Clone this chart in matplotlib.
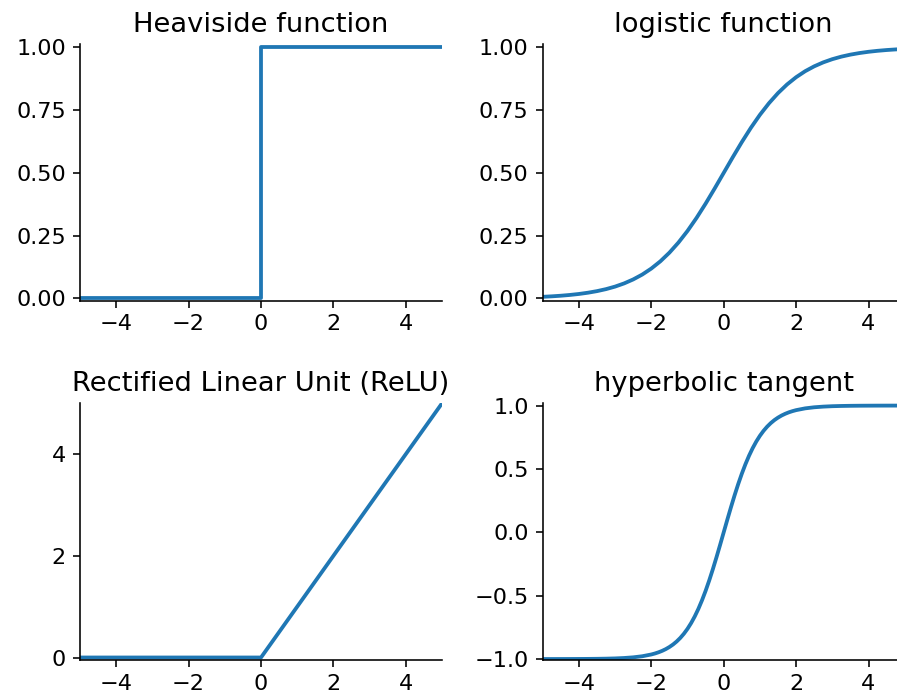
import matplotlib
matplotlib.use("Agg")
import matplotlib.pyplot as plt

# sample points
x_step = [-5, 0, 0, 5]
y_step = [0, 0, 1, 1]

x_relu = [-5, 0, 5]
y_relu = [0, 0, 5]

x_logistic = [-5 + 0.25 * i for i in range(41)]
y_logistic = [0.0067, 0.0086, 0.0110, 0.0141, 0.0180, 0.0230, 0.0293, 0.0373,
              0.0474, 0.0601, 0.0759, 0.0953, 0.1192, 0.1480, 0.1824, 0.2227,
              0.2689, 0.3208, 0.3775, 0.4378, 0.5000, 0.5622, 0.6225, 0.6792,
              0.7311, 0.7773, 0.8176, 0.8520, 0.8808, 0.9047, 0.9241, 0.9399,
              0.9526, 0.9627, 0.9707, 0.9770, 0.9820, 0.9859, 0.9890, 0.9914,
              0.9933]

# coarse in the flat tails, finer through the steep middle
x_tanh = ([-5 + 0.25 * i for i in range(12)]
          + [round(-2 + 0.1 * i, 1) for i in range(41)]
          + [2.25 + 0.25 * i for i in range(12)])
y_tanh = [-0.9999, -0.9999, -0.9998, -0.9996, -0.9993, -0.9989, -0.9982, -0.9970,
          -0.9951, -0.9918, -0.9866, -0.9780,
          -0.9640, -0.9562, -0.9468, -0.9354, -0.9217, -0.9051, -0.8854, -0.8617,
          -0.8337, -0.8005, -0.7616, -0.7163, -0.6640, -0.6044, -0.5370, -0.4621,
          -0.3799, -0.2913, -0.1974, -0.0997, 0.0000, 0.0997, 0.1974, 0.2913,
          0.3799, 0.4621, 0.5370, 0.6044, 0.6640, 0.7163, 0.7616, 0.8005,
          0.8337, 0.8617, 0.8854, 0.9051, 0.9217, 0.9354, 0.9468, 0.9562,
          0.9640,
          0.9780, 0.9866, 0.9918, 0.9951, 0.9970, 0.9982, 0.9989, 0.9993,
          0.9996, 0.9998, 0.9999, 0.9999]

plt.rcParams['font.size'] = 11.2

W, H = 897, 698
fig = plt.figure(figsize=(W / 144, H / 144), dpi=144)


def box(left, top, right, bottom):
    return [left / W, 1 - bottom / H, (right - left) / W, (bottom - top) / H]


panels = [
    (box(80, 44, 442, 300.5), x_step, y_step, 'Heaviside function', (-0.008, 1.013), [0, 0.25, 0.5, 0.75, 1.0], '{:.2f}'),
    (box(542.7, 44, 904.7, 300.5), x_logistic, y_logistic, 'logistic function', (-0.008, 1.013), [0, 0.25, 0.5, 0.75, 1.0], '{:.2f}'),
    (box(80, 403.3, 442, 660.3), x_relu, y_relu, 'Rectified Linear Unit (ReLU)', (-0.055, 5.0), [0, 2, 4], '{:.0f}'),
    (box(542.7, 403.3, 904.7, 660.3), x_tanh, y_tanh, 'hyperbolic tangent', (-1.01, 1.018), [-1.0, -0.5, 0.0, 0.5, 1.0], '{:.1f}'),
]

for pos, xs, ys, title, ylim, yticks, fmt in panels:
    ax = fig.add_axes(pos)
    ax.plot(xs, ys, color='#1f77b4', linewidth=1.9)
    ax.set_xlim(-5, 5)
    ax.set_ylim(*ylim)
    ax.set_xticks([-4, -2, 0, 2, 4])
    ax.set_yticks(yticks)
    ax.set_yticklabels([fmt.format(v).replace('-', '\u2212') for v in yticks])
    ax.spines['top'].set_visible(False)
    ax.spines['right'].set_visible(False)
    ax.set_title(title, fontsize=13.7)

fig.savefig('out.png', dpi=144)
